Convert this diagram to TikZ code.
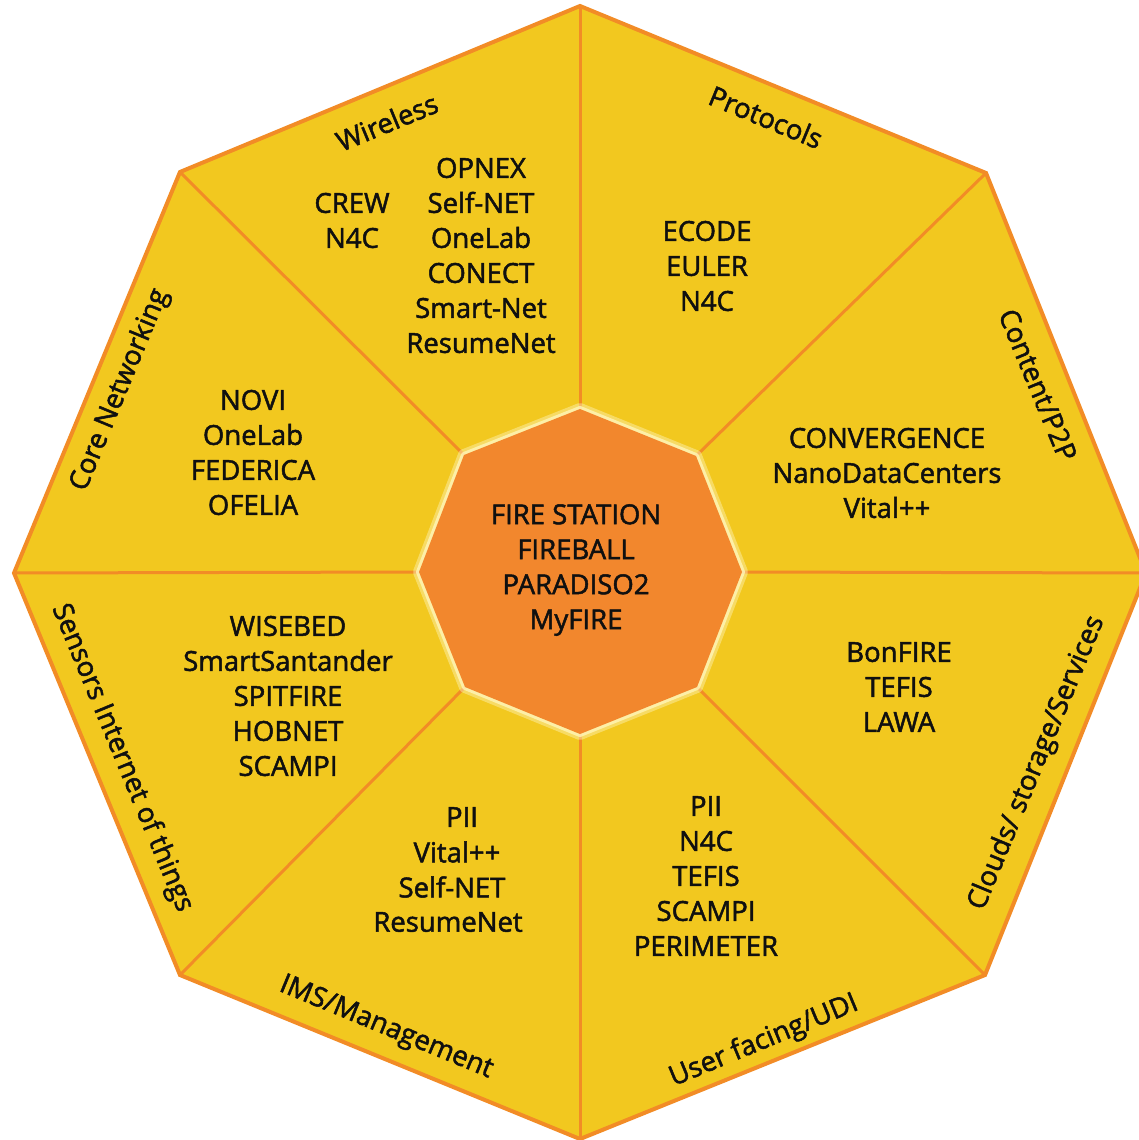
\documentclass[tikz,border=0pt]{standalone}
\usepackage{fontspec}
\setmainfont{Open Sans}[FakeBold=1.8]
\definecolor{octfill}{HTML}{F2C81F}
\definecolor{octline}{HTML}{F28C26}
\definecolor{corefill}{HTML}{F2872D}
\definecolor{corehalo}{HTML}{FFF4B8}
\definecolor{ink}{HTML}{101010}
\begin{document}
\begin{tikzpicture}[x=1pt,y=-1pt,
  lbl/.style={font=\fontsize{27.5}{35}\selectfont, text=ink, inner sep=0pt},
  lst/.style={lbl, align=center},
  rim/.style={octline, line width=4pt, line join=miter},
  divider/.style={octline, line width=3pt}]
\useasboundingbox (0,0) rectangle (1138,1140);
\fill[white] (0,0) rectangle (1138,1140);
% outer vertices
\coordinate (oT)  at (580,6);
\coordinate (oTR) at (986,173);
\coordinate (oR)  at (1146,573);
\coordinate (oBR) at (985,975);
\coordinate (oB)  at (580,1139);
\coordinate (oBL) at (180,975);
\coordinate (oL)  at (14,573);
\coordinate (oTL) at (180,172);
% inner vertices
\coordinate (iT)  at (580,409);
\coordinate (iTR) at (696,456);
\coordinate (iR)  at (742,572);
\coordinate (iBR) at (697,687);
\coordinate (iB)  at (580,734);
\coordinate (iBL) at (465,687);
\coordinate (iL)  at (419,572);
\coordinate (iTL) at (464,455);
\draw[rim, fill=octfill] (oT) -- (oTR) -- (oR) -- (oBR) -- (oB) -- (oBL) -- (oL) -- (oTL) -- cycle;
\foreach \v in {T,TR,R,BR,B,BL,L,TL} \draw[divider] (o\v) -- (i\v);
\draw[corehalo, line width=12pt, line join=round, opacity=0.45] (iT) -- (iTR) -- (iR) -- (iBR) -- (iB) -- (iBL) -- (iL) -- (iTL) -- cycle;
\draw[corehalo, line width=6pt, line join=round, opacity=0.8] (iT) -- (iTR) -- (iR) -- (iBR) -- (iB) -- (iBL) -- (iL) -- (iTL) -- cycle;
\fill[corefill] (iT) -- (iTR) -- (iR) -- (iBR) -- (iB) -- (iBL) -- (iL) -- (iTL) -- cycle;
% side labels
\node[lbl, rotate=22.5]  (wireless)  at (387,122)  {Wireless};
\node[lbl, rotate=-22.5] (protocols) at (766,117)  {Protocols};
\node[lbl, rotate=-67.5] (content)   at (1038,385) {Content/P2P};
\node[lbl, rotate=67.5]  (clouds)    at (1037,763) {Clouds/ storage/Services};
\node[lbl, rotate=22.5]  (user)      at (764,1041) {User facing/UDI};
\node[lbl, rotate=-22.5] (ims)       at (386,1028) {IMS/Management};
\node[lbl, rotate=-67.5] (sensors)   at (122,758)  {Sensors Internet of things};
\node[lbl, rotate=67.5]  (core)      at (120,390)  {Core Networking};
% lists
\node[lst] (wlA)  at (352,220.5) {CREW\\N4C};
\node[lst] (wlB)  at (481,255.5) {OPNEX\\Self-NET\\OneLab\\CONECT\\Smart-Net\\ResumeNet};
\node[lst] (prot) at (707,266)   {ECODE\\EULER\\N4C};
\node[lst] (cont) at (887,473)   {CONVERGENCE\\NanoDataCenters\\Vital++};
\node[lst] (clou) at (899,687)   {BonFIRE\\TEFIS\\LAWA};
\node[lst] (usr)  at (706,876)   {PII\\N4C\\TEFIS\\SCAMPI\\PERIMETER};
\node[lbl] (ims1) at (462,817) {PII};
\node[lbl] (ims2) at (457,852) {Vital++};
\node[lbl] (ims3) at (452,887) {Self-NET};
\node[lbl] (ims4) at (448,922) {ResumeNet};
\node[lst] (sens) at (288,696)   {WISEBED\\SmartSantander\\SPITFIRE\\HOBNET\\SCAMPI};
\node[lst] (cnet) at (253,452.5) {NOVI\\OneLab\\FEDERICA\\OFELIA};
\node[lst] (ctr)  at (576,570)   {FIRE STATION\\FIREBALL\\PARADISO2\\MyFIRE};
\end{tikzpicture}
\end{document}
